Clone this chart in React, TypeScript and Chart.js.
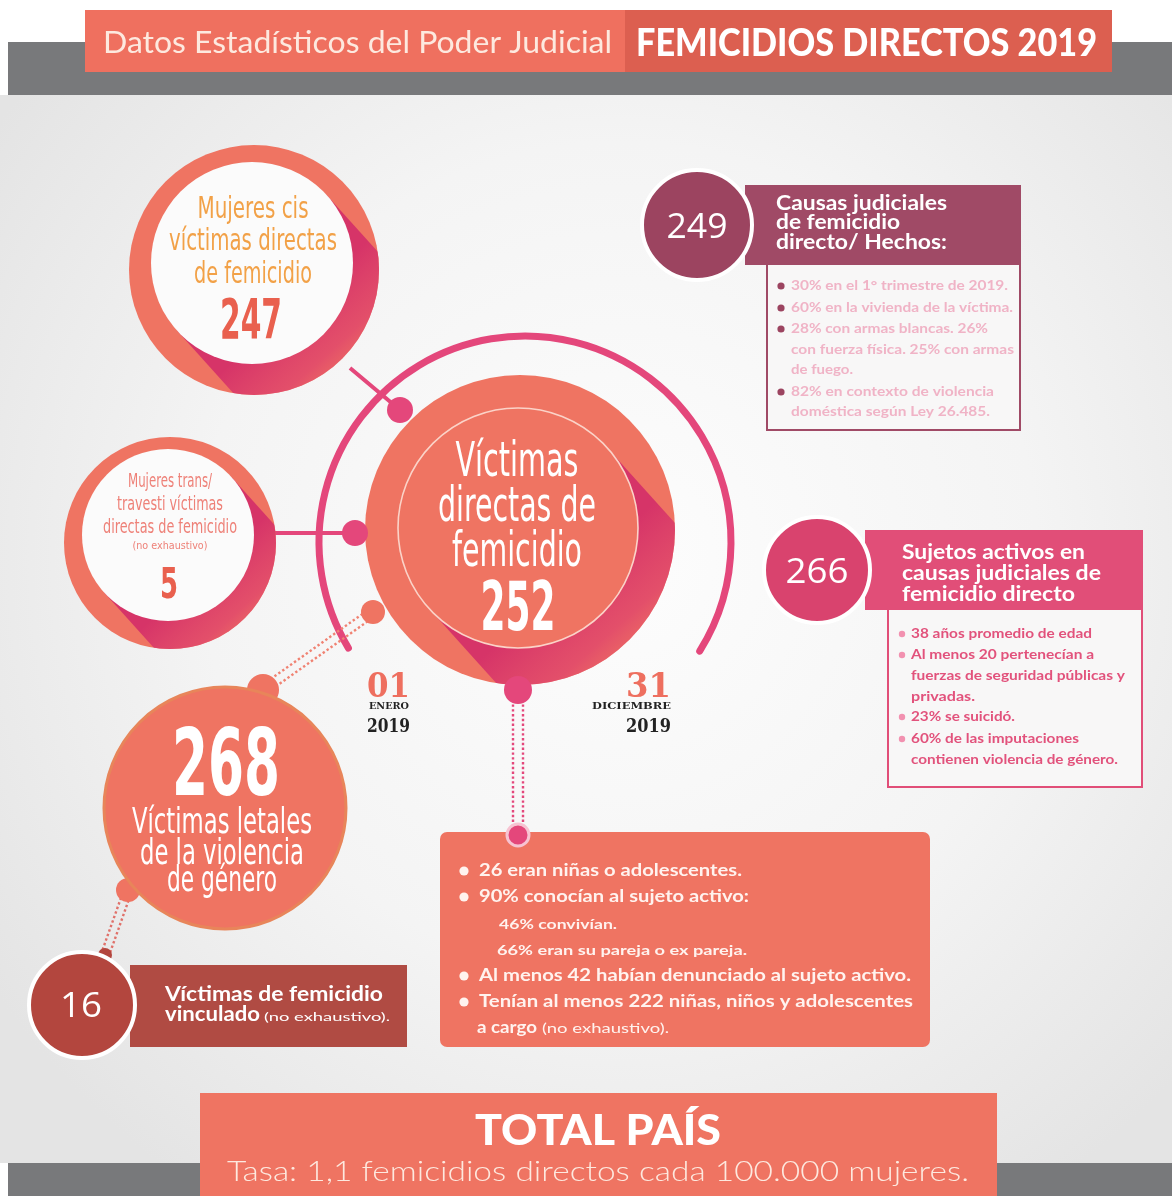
import React, { useEffect, useRef } from "react";
import { Chart, registerables } from "chart.js";

Chart.register(...registerables);

// ---------------- data ----------------
const headerLabels = ["Datos Estadísticos del Poder Judicial", "FEMICIDIOS DIRECTOS 2019"];
const statKeys = ["cis", "trans", "directas", "letales", "vinculado", "causas", "sujetos"];
const statValues = [247, 5, 252, 268, 16, 249, 266];
const cisLines = ["Mujeres cis", "víctimas directas", "de femicidio"];
const transLines = ["Mujeres trans/", "travesti víctimas", "directas de femicidio", "(no exhaustivo)"];
const directLines = ["Víctimas", "directas de", "femicidio"];
const lethalLines = ["Víctimas letales", "de la violencia", "de género"];
const linkedLines = ["Víctimas de femicidio", "vinculado", "(no exhaustivo)."];
const periodDays = ["01", "31"];
const periodMonths = ["ENERO", "DICIEMBRE"];
const periodYears = ["2019", "2019"];
const causasTitle = ["Causas judiciales", "de femicidio", "directo/ Hechos:"];
const causasFacts = [
  "30% en el 1° trimestre de 2019.",
  "60% en la vivienda de la víctima.",
  "28% con armas blancas. 26%",
  "con fuerza física. 25% con armas",
  "de fuego.",
  "82% en contexto de violencia",
  "doméstica según Ley 26.485.",
];
const causasBullets = [true, true, true, false, false, true, false];
const sujetosTitle = ["Sujetos activos en", "causas judiciales de", "femicidio directo"];
const sujetosFacts = [
  "38 años promedio de edad",
  "Al menos 20 pertenecían a",
  "fuerzas de seguridad públicas y",
  "privadas.",
  "23% se suicidó.",
  "60% de las imputaciones",
  "contienen violencia de género.",
];
const sujetosBullets = [true, true, false, false, true, true, false];
const victimFacts = [
  "26 eran niñas o adolescentes.",
  "90% conocían al sujeto activo:",
  "46% convivían.",
  "66% eran su pareja o ex pareja.",
  "Al menos 42 habían denunciado al sujeto activo.",
  "Tenían al menos 222 niñas, niños y adolescentes",
  "a cargo",
];
const victimBullets = [true, true, false, false, true, true, false];
const victimNote = "(no exhaustivo).";
const totalLines = ["TOTAL PAÍS", "Tasa: 1,1 femicidios directos cada 100.000 mujeres."];

// ---------------- layout (pixels in scale units) ----------------
const W = 1172;
const H = 1196;
const COND = "'DejaVu Sans Condensed', 'DejaVu Sans', sans-serif";
const BODY = "Lato, 'Open Sans', sans-serif";
const THIN = "'Open Sans', Lato, sans-serif";
const SERIF = "'DejaVu Serif', serif";

const SALMON = "#ef7462";
const PINK = "#e4477b";

// [x, y, r]
const ringGeom: Record<string, number[]> = {
  cis: [254, 270, 125],
  trans: [170, 543, 106],
  directas: [520, 530, 155],
  letales: [225, 808, 121],
};
const innerGeom: Record<string, number[]> = {
  cis: [252, 263, 101],
  trans: [168, 535, 86],
  directas: [518, 528, 120],
};
const bumpGeom = [
  [373, 612, 12],
  [263, 690, 16],
  [128, 890, 12],
];
const badgeGeom: Record<string, number[]> = {
  vinculado: [82, 1005, 53],
  causas: [697, 225, 55],
  sujetos: [817, 570, 53],
};
const badgeColors: Record<string, string> = {
  vinculado: "#b3463e",
  causas: "#9c4460",
  sujetos: "#d9436e",
};
const dotGeom = [
  [400, 410, 13],
  [355, 533, 13],
  [518, 690, 14],
  [518, 835, 11],
];
const arcGeom = { cx: 525, cy: 542, r: 206, a0: 149, a1: 392 };

function txt(
  ctx: CanvasRenderingContext2D,
  s: string,
  x: number,
  y: number,
  font: string,
  color: string,
  w?: number,
  align: "left" | "center" = "left"
) {
  ctx.save();
  ctx.font = font;
  ctx.fillStyle = color;
  ctx.textBaseline = "alphabetic";
  ctx.textAlign = "left";
  const m = ctx.measureText(s).width;
  const sx = w ? w / m : 1;
  const dw = m * sx;
  const left = align === "center" ? x - dw / 2 : x;
  ctx.translate(left, y);
  ctx.scale(sx, 1);
  ctx.fillText(s, 0, 0);
  ctx.restore();
}

function dottedPair(
  ctx: CanvasRenderingContext2D,
  x1: number,
  y1: number,
  x2: number,
  y2: number,
  gap: number,
  color: string
) {
  const dx = x2 - x1;
  const dy = y2 - y1;
  const len = Math.hypot(dx, dy);
  const nx = (-dy / len) * (gap / 2);
  const ny = (dx / len) * (gap / 2);
  ctx.save();
  ctx.strokeStyle = color;
  ctx.lineWidth = 2.4;
  ctx.setLineDash([2.4, 2.4]);
  for (const s of [-1, 1]) {
    ctx.beginPath();
    ctx.moveTo(x1 + nx * s, y1 + ny * s);
    ctx.lineTo(x2 + nx * s, y2 + ny * s);
    ctx.stroke();
  }
  ctx.restore();
}

function longShadow(ctx: CanvasRenderingContext2D, o: number[], i: number[], angDeg: number) {
  const a = (angDeg * Math.PI) / 180;
  const dx = Math.cos(a);
  const dy = Math.sin(a);
  const px = -dy;
  const py = dx;
  const L = o[2] * 2.2;
  ctx.save();
  ctx.beginPath();
  ctx.arc(o[0], o[1], o[2], 0, Math.PI * 2);
  ctx.clip();
  ctx.beginPath();
  ctx.moveTo(i[0] + px * i[2], i[1] + py * i[2]);
  ctx.lineTo(i[0] + px * i[2] + dx * L, i[1] + py * i[2] + dy * L);
  ctx.lineTo(i[0] - px * i[2] + dx * L, i[1] - py * i[2] + dy * L);
  ctx.lineTo(i[0] - px * i[2], i[1] - py * i[2]);
  ctx.closePath();
  const g = ctx.createLinearGradient(
    i[0] + dx * i[2] * 0.6,
    i[1] + dy * i[2] * 0.6,
    i[0] + dx * (o[2] + 40),
    i[1] + dy * (o[2] + 40)
  );
  g.addColorStop(0, "rgba(214,52,104,1)");
  g.addColorStop(0.55, "rgba(224,70,108,0.8)");
  g.addColorStop(1, "rgba(236,100,100,0.15)");
  ctx.fillStyle = g;
  ctx.fill();
  ctx.restore();
}

export default function App() {
  const ref = useRef<HTMLCanvasElement | null>(null);

  useEffect(() => {
    document.body.style.margin = "0";
    const canvas = ref.current;
    if (!canvas) return;

    const val = (k: string) => statValues[statKeys.indexOf(k)];

    const ringKeys = ["cis", "trans", "directas", "letales"];
    const ringData = [
      ...bumpGeom.map((b) => ({ x: b[0], y: b[1], r: b[2] })),
      ...ringKeys.map((k) => ({ x: ringGeom[k][0], y: ringGeom[k][1], r: ringGeom[k][2], v: val(k) })),
    ];
    const innerKeys = ["cis", "trans", "directas"];
    const innerData = innerKeys.map((k) => ({ x: innerGeom[k][0], y: innerGeom[k][1], r: innerGeom[k][2], v: val(k) }));
    const badgeKeys = ["vinculado", "causas", "sujetos"];
    const badgeData = [
      { x: 105, y: 955, r: 7 },
      ...badgeKeys.map((k) => ({ x: badgeGeom[k][0], y: badgeGeom[k][1], r: badgeGeom[k][2], v: val(k) })),
    ];
    const dotData = dotGeom.map((d) => ({ x: d[0], y: d[1], r: d[2] }));

    const infoPlugin = {
      id: "infographic",
      beforeDatasetsDraw(chart: any) {
        const ctx: CanvasRenderingContext2D = chart.ctx;
        const xs = chart.scales.x;
        const ys = chart.scales.y;
        const X = (v: number) => xs.getPixelForValue(v);
        const Y = (v: number) => ys.getPixelForValue(v);
        ctx.save();
        // page background
        ctx.fillStyle = "#ffffff";
        ctx.fillRect(0, 0, W, H);
        const rg = ctx.createRadialGradient(X(620), Y(560), 0, X(620), Y(560), 760);
        rg.addColorStop(0, "#fdfdfd");
        rg.addColorStop(0.55, "#f4f4f4");
        rg.addColorStop(1, "#e4e4e4");
        ctx.fillStyle = rg;
        ctx.fillRect(X(0), Y(95), X(W) - X(0), Y(1163) - Y(95));
        ctx.fillStyle = "#78797b";
        ctx.fillRect(X(8), Y(42), X(W) - X(8), Y(95) - Y(42));
        ctx.fillRect(X(8), Y(1163), X(W) - X(8), Y(H) - Y(1163));
        // header boxes
        ctx.fillStyle = "#ef705f";
        ctx.fillRect(X(85), Y(10), X(625) - X(85), Y(72) - Y(10));
        ctx.fillStyle = "#dc5f50";
        ctx.fillRect(X(625), Y(10), X(1112) - X(625), Y(72) - Y(10));

        // big pink arc
        ctx.strokeStyle = PINK;
        ctx.lineWidth = 7;
        ctx.lineCap = "round";
        ctx.beginPath();
        ctx.arc(X(arcGeom.cx), Y(arcGeom.cy), arcGeom.r, (arcGeom.a0 * Math.PI) / 180, (arcGeom.a1 * Math.PI) / 180);
        ctx.stroke();
        // connectors
        ctx.lineWidth = 4;
        ctx.lineCap = "butt";
        ctx.beginPath();
        ctx.moveTo(X(350), Y(368));
        ctx.lineTo(X(400), Y(410));
        ctx.moveTo(X(272), Y(533));
        ctx.lineTo(X(355), Y(533));
        ctx.stroke();
        dottedPair(ctx, X(373), Y(612), X(263), Y(690), 9, "#f08272");
        dottedPair(ctx, X(518), Y(690), X(518), Y(835), 10, PINK);
        dottedPair(ctx, X(128), Y(890), X(105), Y(955), 8, "#e0716a");

        // vinculado bar
        ctx.fillStyle = "#b04b43";
        ctx.fillRect(X(130), Y(965), X(407) - X(130), Y(1047) - Y(965));
        // causas bar + box
        ctx.fillStyle = "#f8f7f7";
        ctx.fillRect(X(767), Y(265), X(1020) - X(767), Y(430) - Y(265));
        ctx.strokeStyle = "#a04a66";
        ctx.lineWidth = 2;
        ctx.strokeRect(X(767), Y(262), X(1020) - X(767), Y(430) - Y(262));
        ctx.fillStyle = "#a04a66";
        ctx.fillRect(X(745), Y(185), X(1021) - X(745), Y(265) - Y(185));
        // sujetos bar + box
        ctx.fillStyle = "#f8f7f7";
        ctx.fillRect(X(888), Y(610), X(1142) - X(888), Y(787) - Y(610));
        ctx.strokeStyle = "#e14e78";
        ctx.strokeRect(X(888), Y(607), X(1142) - X(888), Y(787) - Y(607));
        ctx.fillStyle = "#e14e78";
        ctx.fillRect(X(865), Y(530), X(1143) - X(865), Y(610) - Y(530));
        // victims box
        ctx.fillStyle = SALMON;
        ctx.beginPath();
        (ctx as any).roundRect(X(440), Y(832), X(930) - X(440), Y(1047) - Y(832), 7);
        ctx.fill();
        // total box
        ctx.fillStyle = SALMON;
        ctx.fillRect(X(200), Y(1093), X(997) - X(200), Y(H) - Y(1093));
        ctx.restore();
      },
      afterDatasetDraw(chart: any, args: any) {
        if (args.index !== 0) return;
        const ctx: CanvasRenderingContext2D = chart.ctx;
        const xs = chart.scales.x;
        const ys = chart.scales.y;
        for (const k of innerKeys) {
          const o = ringGeom[k];
          const i = innerGeom[k];
          longShadow(
            ctx,
            [xs.getPixelForValue(o[0]), ys.getPixelForValue(o[1]), o[2]],
            [xs.getPixelForValue(i[0]), ys.getPixelForValue(i[1]), i[2]],
            48
          );
        }
      },
      afterDatasetsDraw(chart: any) {
        const ctx: CanvasRenderingContext2D = chart.ctx;
        const xs = chart.scales.x;
        const ys = chart.scales.y;
        const X = (v: number) => xs.getPixelForValue(v);
        const Y = (v: number) => ys.getPixelForValue(v);
        const T = (s: string, x: number, y: number, font: string, color: string, w?: number, align: "left" | "center" = "left") =>
          txt(ctx, s, X(x), Y(y), font, color, w, align);

        // header
        T(headerLabels[0], 103, 53, `400 30px ${BODY}`, "#fde9df", 509);
        T(headerLabels[1], 636, 56, `900 38px ${BODY}`, "#ffffff", 461);

        // cis circle
        const cisB = [218, 250, 283];
        const cisW = [111, 168, 118];
        cisLines.forEach((s, i) => T(s, 253, cisB[i], `30px ${COND}`, "#f2a147", cisW[i], "center"));
        T(String(val("cis")), 251, 338, `bold 56px ${COND}`, "#e9604e", 62, "center");

        // trans circle
        const trB = [487, 510, 533, 549];
        const trW = [84, 106, 134, 75];
        transLines.forEach((s, i) =>
          T(s, 170, trB[i], i === 3 ? `11px ${COND}` : `19px ${COND}`, "#ee8178", trW[i], "center")
        );
        T(String(val("trans")), 169, 598, `bold 42px ${COND}`, "#e9604e", 18, "center");

        // central circle
        const dB = [476, 521, 566];
        const dW = [123, 158, 130];
        directLines.forEach((s, i) => T(s, 517, dB[i], `48px ${COND}`, "#ffffff", dW[i], "center"));
        T(String(val("directas")), 518, 630, `bold 68px ${COND}`, "#ffffff", 75, "center");

        // lethal circle
        T(String(val("letales")), 226, 795, `bold 92px ${COND}`, "#ffffff", 108, "center");
        const lB = [833, 864, 891];
        const lW = [180, 164, 110];
        lethalLines.forEach((s, i) => T(s, 222, lB[i], `36px ${COND}`, "#ffffff", lW[i], "center"));

        // period
        const dayX = [367, 626];
        const dayW = [43, 45];
        const monX = [369, 592];
        const monW = [40, 79];
        for (let i = 0; i < 2; i++) {
          T(periodDays[i], dayX[i], 697, `bold 33px ${SERIF}`, "#ee6f5f", dayW[i]);
          T(periodMonths[i], monX[i], 709, `bold 9px ${SERIF}`, "#222222", monW[i]);
          T(periodYears[i], dayX[i], 732, `bold 19px ${SERIF}`, "#222222", dayW[i]);
        }

        // badges
        T(String(val("vinculado")), 81, 1017, `34px ${THIN}`, "#ffffff", 42, "center");
        T(String(val("causas")), 697, 238, `34px ${THIN}`, "#ffffff", 61, "center");
        T(String(val("sujetos")), 817, 583, `34px ${THIN}`, "#ffffff", 63, "center");

        // vinculado text
        T(linkedLines[0], 165, 1001, `bold 20px ${BODY}`, "#ffffff", 218);
        T(linkedLines[1], 165, 1021, `bold 20px ${BODY}`, "#ffffff", 95);
        T(linkedLines[2], 264, 1021, `400 12px ${BODY}`, "#ffffff", 126);

        // causas
        const cB = [210, 229, 249];
        const cW = [171, 124, 171];
        causasTitle.forEach((s, i) => T(s, 776, cB[i], `bold 20px ${BODY}`, "#ffffff", cW[i]));
        const cfB = [290, 312, 333, 354, 374, 396, 416];
        const cfW = [217, 222, 197, 223, 62, 203, 199];
        causasFacts.forEach((s, i) => {
          T(s, 791, cfB[i], `bold 12.5px ${BODY}`, "#f0b3c6", cfW[i]);
          if (causasBullets[i]) {
            ctx.beginPath();
            ctx.fillStyle = "#9c4460";
            ctx.arc(X(781), Y(cfB[i] - 4), 3.6, 0, Math.PI * 2);
            ctx.fill();
          }
        });

        // sujetos
        const sB = [559, 580, 601];
        const sW = [183, 199, 173];
        sujetosTitle.forEach((s, i) => T(s, 902, sB[i], `bold 20px ${BODY}`, "#ffffff", sW[i]));
        const sfB = [638, 659, 680, 701, 721, 743, 764];
        const sfW = [181, 183, 214, 64, 104, 168, 207];
        sujetosFacts.forEach((s, i) => {
          T(s, 911, sfB[i], `bold 12.5px ${BODY}`, "#e2527c", sfW[i]);
          if (sujetosBullets[i]) {
            ctx.beginPath();
            ctx.fillStyle = "#f291b0";
            ctx.arc(X(902), Y(sfB[i] - 4), 3.2, 0, Math.PI * 2);
            ctx.fill();
          }
        });

        // victims box
        const vB = [876, 902, 929, 955, 981, 1007, 1033];
        const vX = [479, 479, 499, 497, 479, 479, 477];
        const vW = [263, 270, 118, 250, 432, 434, 60];
        const vF = [16.5, 16.5, 14, 14, 16.5, 16.5, 16.5];
        victimFacts.forEach((s, i) => {
          T(s, vX[i], vB[i], `bold ${vF[i]}px ${BODY}`, "#fff3ef", vW[i]);
          if (victimBullets[i]) {
            ctx.beginPath();
            ctx.fillStyle = "#fff3ef";
            ctx.arc(X(464), Y(vB[i] - 5), 4.6, 0, Math.PI * 2);
            ctx.fill();
          }
        });
        T(victimNote, 542, 1033, `400 12.5px ${BODY}`, "#fff3ef", 127);

        // total
        T(totalLines[0], 598, 1145, `900 42px ${BODY}`, "#ffffff", 246, "center");
        T(totalLines[1], 598, 1181, `300 28px ${BODY}`, "#fde9df", 742, "center");
      },
    };

    const chart = new Chart(canvas, {
      type: "bubble",
      data: {
        datasets: [
          {
            label: "anillos",
            data: ringData as any,
            backgroundColor: SALMON,
            borderColor: ringData.map((_, i) => (i === ringData.length - 1 ? "#e8855a" : SALMON)),
            borderWidth: ringData.map((_, i) => (i === ringData.length - 1 ? 3 : 0)),
            order: 4,
            clip: false as any,
          },
          {
            label: "interiores",
            data: innerData as any,
            backgroundColor: ["#fbfbfb", "#fbfbfb", SALMON],
            borderColor: ["#ffffff", "#ffffff", "#fbd3c8"],
            borderWidth: [0, 0, 1.6],
            order: 3,
            clip: false as any,
          },
          {
            label: "insignias",
            data: badgeData as any,
            backgroundColor: ["#b3463e", ...badgeKeys.map((k) => badgeColors[k])],
            borderColor: "#ffffff",
            borderWidth: [0, 4, 4, 4],
            order: 2,
            clip: false as any,
          },
          {
            label: "conectores",
            data: dotData as any,
            backgroundColor: PINK,
            borderColor: "#f7c3d2",
            borderWidth: [0, 0, 0, 3],
            order: 1,
            clip: false as any,
          },
        ],
      },
      options: {
        responsive: false,
        maintainAspectRatio: false,
        animation: false,
        events: [],
        layout: { padding: 0, autoPadding: false },
        plugins: {
          legend: { display: false },
          tooltip: { enabled: false },
          title: { display: false },
        },
        scales: {
          x: { type: "linear", min: 0, max: W, display: false },
          y: { type: "linear", min: 0, max: H, reverse: true, display: false },
        },
      },
      plugins: [infoPlugin],
    });
    return () => chart.destroy();
  }, []);

  return (
    <div style={{ width: W, height: H }}>
      <canvas ref={ref} width={W} height={H} style={{ display: "block", width: W, height: H }} />
    </div>
  );
}
